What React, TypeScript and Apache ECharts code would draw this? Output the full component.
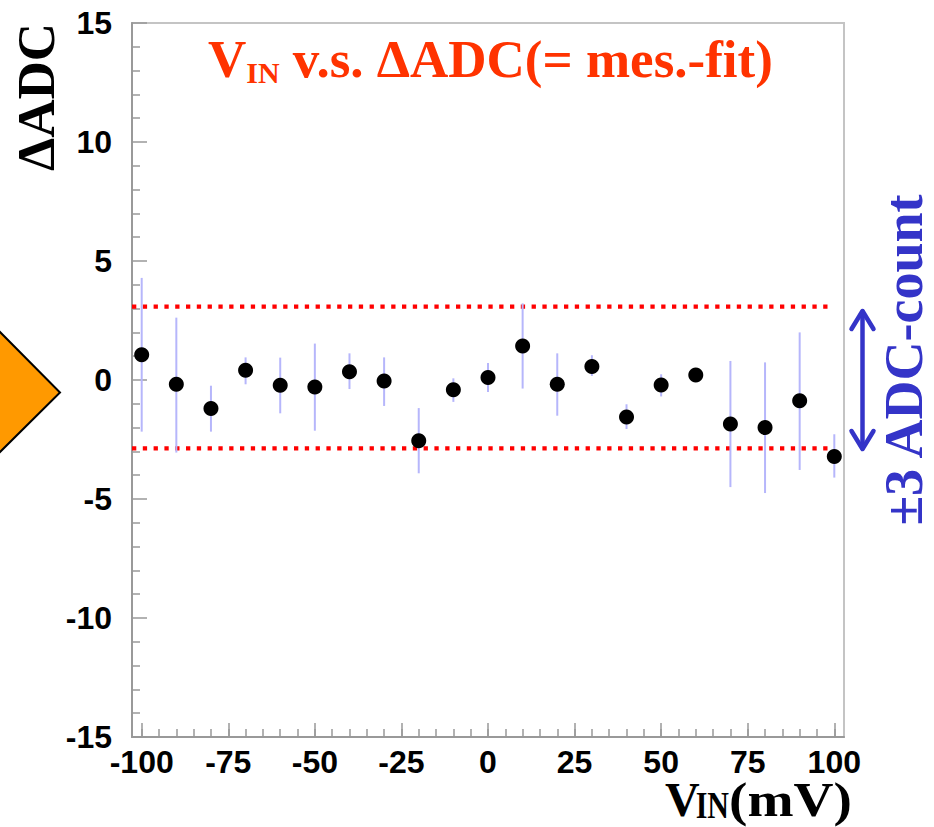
import React, { useEffect, useRef } from "react";
import * as echarts from "echarts";

// ---- data ----
const vin = [-100, -90, -80, -70, -60, -50, -40, -30, -20, -10, 0, 10, 20, 30, 40, 50, 60, 70, 80, 90, 100];
const dAdc = [1.06, -0.18, -1.2, 0.41, -0.22, -0.29, 0.35, -0.04, -2.55, -0.41, 0.1, 1.43, -0.18, 0.57, -1.55, -0.21, 0.21, -1.85, -2.0, -0.87, -3.21];
const errTop = [4.29, 2.62, -0.24, 0.95, 0.94, 1.53, 1.12, 0.95, -1.18, 0.07, 0.71, 3.22, 1.12, 1.04, -1.02, 0.24, 0.45, 0.8, 0.74, 2.0, -2.28];
const errBottom = [-2.17, -3.05, -2.17, -0.18, -1.4, -2.13, -0.38, -1.09, -3.92, -0.92, -0.5, -0.36, -1.5, 0.17, -2.06, -0.69, -0.03, -4.5, -4.75, -3.78, -4.1];
const bandLevels = [3.08, -2.87];
const bandXRange = [-102.8, 99.3];
const xMajorTicks = [-100, -75, -50, -25, 0, 25, 50, 75, 100];
const xMinorTicks = [-100, -95, -90, -85, -80, -75, -70, -65, -60, -55, -50, -45, -40, -35, -30, -25, -20, -15, -10, -5, 0, 5, 10, 15, 20, 25, 30, 35, 40, 45, 50, 55, 60, 65, 70, 75, 80, 85, 90, 95, 100];

const SERIF = '"Liberation Serif", "Times New Roman", serif';
const SANS = '"Liberation Sans", Arial, Helvetica, sans-serif';

function measure(text: string, size: number, family = SERIF) {
  const ctx = document.createElement("canvas").getContext("2d");
  if (!ctx) return text.length * size * 0.5;
  ctx.font = `bold ${size}px ${family}`;
  return ctx.measureText(text).width;
}

// text positioned by left edge and baseline
function txt(text: string, x: number, baseline: number, size: number, fill: string, extra: any = {}) {
  return {
    type: "text",
    x,
    y: baseline,
    ...extra,
    style: {
      x: 0,
      y: -0.3375 * size,
      text,
      fill,
      fontSize: size,
      fontFamily: SERIF,
      fontWeight: "bold",
      align: "left",
      verticalAlign: "middle",
    },
  };
}

export default function App() {
  const ref = useRef<HTMLDivElement>(null);

  useEffect(() => {
    if (!ref.current) return;
    const chart = echarts.init(ref.current, null, { renderer: "svg" });

    const red = "#ff3300";
    // title pieces
    const tV = 53, tSub = 30;
    const titleX = 208;
    const wV = measure("V", tV);
    const wIN = measure("IN", tSub);
    // x axis name pieces
    const nV = 48, nSub = 30;
    const nameX = 665;
    const wnV = measure("V", nV);
    const wnIN = measure("IN", nSub);
    const parenStart = nameX + wnV + wnIN - 4;
    const wParen = measure("(mV)", nV);
    const parenScale = (852 - parenStart) / wParen;

    const option: any = {
      animation: false,
      backgroundColor: "#ffffff",
      grid: {
        left: 132,
        right: 90,
        top: 23,
        bottom: 90,
        show: true,
        borderColor: "#c4c4c4",
        borderWidth: 2,
        backgroundColor: "transparent",
      },
      xAxis: [
        {
          type: "value",
          min: -102.8,
          max: 102.8,
          position: "bottom",
          axisLine: { show: true, onZero: false, lineStyle: { color: "#999999", width: 2 } },
          axisTick: {
            show: true,
            inside: true,
            length: 14,
            customValues: xMajorTicks,
            lineStyle: { color: "#999999", width: 1.5 },
          },
          axisLabel: {
            show: true,
            customValues: xMajorTicks,
            margin: 9,
            fontSize: 32,
            fontWeight: "bold",
            fontFamily: SANS,
            color: "#000000",
          },
          splitLine: { show: false },
        },
        {
          type: "value",
          min: -102.8,
          max: 102.8,
          position: "bottom",
          axisLine: { show: false, onZero: false },
          axisTick: {
            show: true,
            inside: true,
            length: 8,
            customValues: xMinorTicks,
            lineStyle: { color: "#999999", width: 1.5 },
          },
          axisLabel: { show: false },
          splitLine: { show: false },
        },
      ],
      yAxis: {
        type: "value",
        min: -15,
        max: 15,
        interval: 5,
        axisLine: { show: true, onZero: false, lineStyle: { color: "#999999", width: 2 } },
        axisTick: { show: true, inside: true, length: 15, lineStyle: { color: "#999999", width: 1.5 } },
        minorTick: { show: true, splitNumber: 5, length: 8, lineStyle: { color: "#999999", width: 1.5 } },
        axisLabel: {
          margin: 20,
          fontSize: 32,
          fontWeight: "bold",
          fontFamily: SANS,
          color: "#000000",
        },
        splitLine: { show: false },
        minorSplitLine: { show: false },
      },
      series: [
        ...bandLevels.map((lvl) => ({
          type: "line",
          xAxisIndex: 0,
          data: [
            [bandXRange[0], lvl],
            [bandXRange[1], lvl],
          ],
          symbol: "none",
          silent: true,
          lineStyle: { color: "#ff0000", width: 4.2, type: [4.3, 6.5], cap: "butt" },
          z: 3,
        })),
        {
          type: "custom",
          xAxisIndex: 0,
          data: vin.map((v, i) => [v, errBottom[i], errTop[i]]),
          encode: { x: 0, y: [1, 2] },
          renderItem: (params: any, api: any) => {
            const x = api.value(0);
            const p1 = api.coord([x, api.value(1)]);
            const p2 = api.coord([x, api.value(2)]);
            return {
              type: "line",
              shape: { x1: p1[0], y1: p1[1], x2: p2[0], y2: p2[1] },
              style: { stroke: "#b6b6fb", lineWidth: 2 },
            };
          },
          z: 4,
        },
        {
          type: "scatter",
          xAxisIndex: 0,
          data: vin.map((v, i) => [v, dAdc[i]]),
          symbol: "circle",
          symbolSize: 15,
          itemStyle: { color: "#000000", opacity: 1 },
          z: 5,
        },
      ],
      graphic: [
        // orange pointer on the left edge
        {
          type: "polygon",
          shape: { points: [[-3, 329], [60, 392.5], [-3, 455]] },
          style: { fill: "#ff9900", stroke: "#000000", lineWidth: 2 },
          z: 10,
        },
        // y axis title
        {
          type: "text",
          x: 36,
          y: 97,
          rotation: Math.PI / 2,
          style: {
            text: "\u0394ADC",
            fill: "#000000",
            fontSize: 53,
            fontFamily: SERIF,
            fontWeight: "bold",
            align: "center",
            verticalAlign: "middle",
          },
          z: 10,
        },
        // title
        txt("V", titleX, 77.3, tV, red, { z: 10 }),
        txt("IN", titleX + wV, 83, tSub, red, { z: 10 }),
        txt(" v.s. \u0394ADC(= mes.-fit)", titleX + wV + wIN, 77.3, tV, red, { z: 10 }),
        // x axis name
        txt("V", nameX, 816, nV, "#000000", { z: 10 }),
        txt("IN", nameX + wnV - 4, 818, nSub, "#000000", { scaleY: 1.25, z: 10 }),
        txt("(mV)", parenStart, 816, nV, "#000000", { scaleX: parenScale, z: 10 }),
        // +-3 ADC-count annotation
        {
          type: "line",
          shape: { x1: 862.5, y1: 312, x2: 862.5, y2: 448 },
          style: { stroke: "#3434c8", lineWidth: 4.5, lineCap: "round" },
          z: 10,
        },
        {
          type: "polyline",
          shape: { points: [[851.5, 329], [862.5, 311], [873.5, 329]] },
          style: { stroke: "#3434c8", lineWidth: 4.5, lineCap: "round", lineJoin: "round", fill: "none" },
          z: 10,
        },
        {
          type: "polyline",
          shape: { points: [[851.5, 431], [862.5, 449], [873.5, 431]] },
          style: { stroke: "#3434c8", lineWidth: 4.5, lineCap: "round", lineJoin: "round", fill: "none" },
          z: 10,
        },
        {
          type: "text",
          x: 904,
          y: 360,
          rotation: Math.PI / 2,
          style: {
            text: "\u00b13 ADC-count",
            fill: "#3434c8",
            fontSize: 54,
            fontFamily: SERIF,
            fontWeight: "bold",
            align: "center",
            verticalAlign: "middle",
          },
          z: 10,
        },
      ],
    };

    chart.setOption(option);
    return () => {
      chart.dispose();
    };
  }, []);

  return (
    <div
      ref={ref}
      style={{ position: "absolute", left: 0, top: 0, width: 934, height: 827, background: "#ffffff" }}
    />
  );
}
